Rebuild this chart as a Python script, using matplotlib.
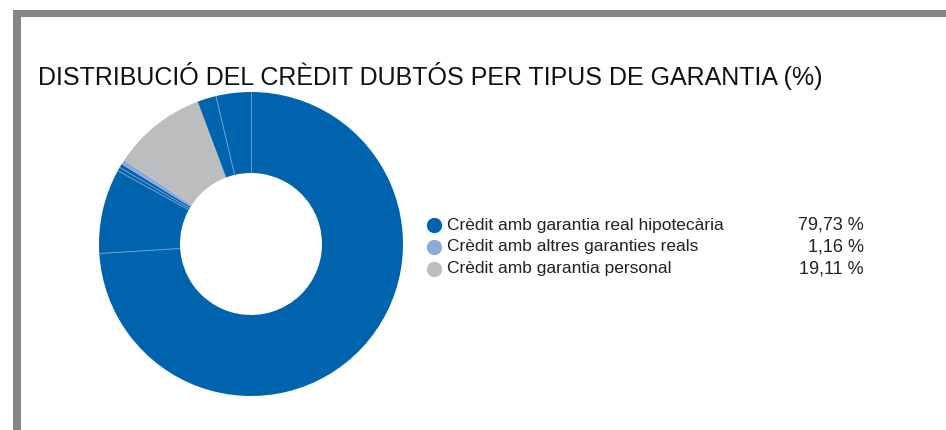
import matplotlib
matplotlib.use("Agg")
import numpy as np
import matplotlib.pyplot as plt
from matplotlib.patches import Rectangle

# slices of the ring, clockwise from 12 o'clock (%)
slice_values = [74.0, 9.0, 0.4, 0.4, 0.5, 10.0, 2.0, 3.7]
slice_kind = [0, 0, 0, 0, 1, 2, 0, 0]

legend_labels = ["Crèdit amb garantia real hipotecària",
                 "Crèdit amb altres garanties reals",
                 "Crèdit amb garantia personal"]
legend_values = ["79,73 %", "1,16 %", "19,11 %"]
colors = ["#0063ad", "#8daadb", "#bcbdbf"]

title = "DISTRIBUCIÓ DEL CRÈDIT DUBTÓS PER TIPUS DE GARANTIA (%)"

W, H = 946, 430
fig = plt.figure(figsize=(W / 100, H / 100), dpi=100)
fig.patch.set_facecolor("white")

# grey frame (top and left bars)
fig.add_artist(Rectangle((13 / W, 0), 8 / W, 1 - 10 / H, transform=fig.transFigure,
                         color="#868686", lw=0))
fig.add_artist(Rectangle((13 / W, 1 - 17 / H), 1, 7 / H, transform=fig.transFigure,
                         color="#868686", lw=0))

# donut
cx, cy, r_out, r_in = 251, 244, 152, 71
ax = fig.add_axes([(cx - r_out) / W, (H - cy - r_out) / H, 2 * r_out / W, 2 * r_out / H])
ax.pie(slice_values, colors=[colors[k] for k in slice_kind], startangle=90,
       counterclock=False, radius=1,
       wedgeprops=dict(width=1 - r_in / r_out, linewidth=0))

# thin light dividers between neighbouring blue slices
bounds = np.cumsum([0] + slice_values)
for i in range(len(slice_values)):
    prev = slice_kind[i - 1]
    if prev == slice_kind[i]:
        a = np.deg2rad(90 - bounds[i] / 100 * 360)
        ax.plot([r_in / r_out * np.cos(a), np.cos(a)], [r_in / r_out * np.sin(a), np.sin(a)],
                color="#6f9bd0", lw=0.7, solid_capstyle="butt")
ax.set_xlim(-1, 1)
ax.set_ylim(-1, 1)
ax.set_aspect("auto")
ax.axis("off")

fig.text(38 / W, 1 - 76 / H, title, fontsize=18, va="center", ha="left",
         family=["Liberation Sans Narrow", "Liberation Sans", "DejaVu Sans"], color="#111111")

# legend
rows_y = [225, 247, 269]
for i in range(3):
    y = 1 - rows_y[i] / H
    fig.add_artist(plt.Line2D([434 / W], [y], marker="o", markersize=10,
                              color=colors[i], transform=fig.transFigure))
    fig.text(447 / W, y, legend_labels[i], fontsize=12.5, va="center", ha="left",
             family=["Liberation Sans", "DejaVu Sans"], color="#222222")
    fig.text(864 / W, y, legend_values[i], fontsize=13, va="center", ha="right",
             family=["Liberation Sans", "DejaVu Sans"], color="#222222")

fig.savefig("out.png", dpi=100)
